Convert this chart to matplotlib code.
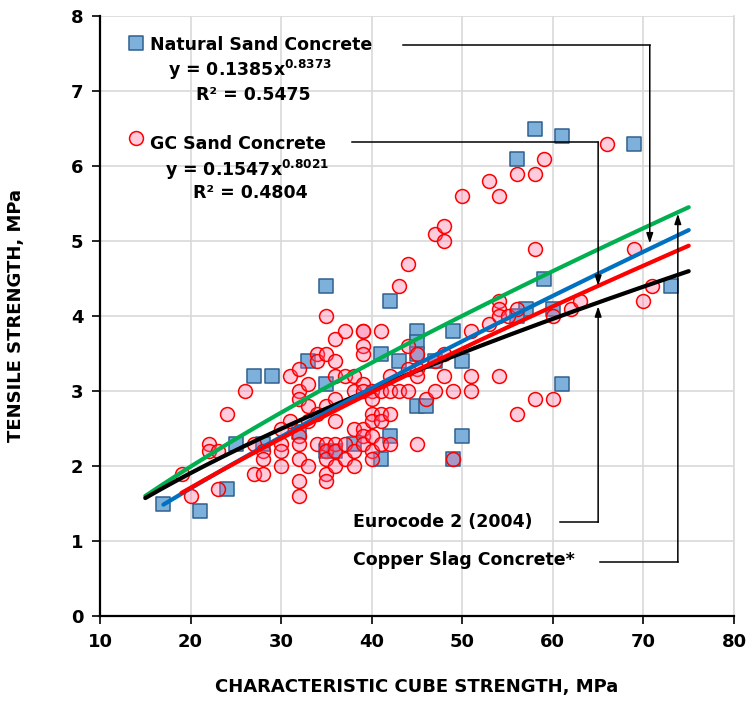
import numpy as np
import matplotlib
matplotlib.use("Agg")
import matplotlib.pyplot as plt

plt.rcParams['font.family'] = ['DejaVu Sans']
plt.rcParams['mathtext.fontset'] = 'custom'
plt.rcParams['mathtext.rm'] = 'DejaVu Sans:bold'
plt.rcParams['mathtext.bf'] = 'DejaVu Sans:bold'

# ---------------- data ----------------
nat_x = [17, 21, 24, 25, 28, 27, 29, 33, 32, 35, 35, 35, 36, 38, 41, 41, 42, 42, 43,
         45, 45, 45, 45, 46, 47, 49, 49, 50, 50, 56, 58, 61, 69, 59, 57, 56, 60, 73, 61]
nat_y = [1.5, 1.4, 1.7, 2.3, 2.3, 3.2, 3.2, 3.4, 2.45, 4.4, 3.1, 2.2, 2.2, 2.3, 3.5, 2.1, 4.2, 2.4, 3.4,
         3.8, 3.65, 3.5, 2.8, 2.8, 3.4, 3.8, 2.1, 3.4, 2.4, 6.1, 6.5, 6.4, 6.3, 4.5, 4.1, 4.0, 4.1, 4.4, 3.1]

gc_x = [19, 20, 22, 22, 23, 23, 24, 26, 27, 28, 28, 27, 28,
        30, 30, 30, 30, 31, 31, 32, 32, 32, 33, 33, 33, 32, 32, 32, 32, 32, 33,
        34, 34, 34, 34, 35, 35, 35, 35, 35, 35, 35, 35,
        36, 36, 36, 36, 36, 36, 36, 36,
        37, 37, 37, 37,
        38, 38, 38, 38, 38,
        39, 39, 39, 39, 39, 39, 39, 39, 39,
        40, 40, 40, 40, 40, 40, 40,
        41, 41, 41, 41, 41,
        42, 42, 42, 42,
        43, 43,
        44, 44, 44, 44,
        45, 45, 45, 45,
        46, 47, 47, 47, 48, 48, 48, 48,
        49, 49, 50, 51, 51, 51,
        53, 53, 54, 54, 54, 54, 54, 55, 56, 56, 56, 58, 58, 58, 59, 60, 60, 62, 63, 66, 69, 70, 71]
gc_y = [1.9, 1.6, 2.3, 2.2, 2.2, 1.7, 2.7, 3.0, 2.3, 2.2, 2.1, 1.9, 1.9,
        2.5, 2.3, 2.2, 2.0, 2.6, 3.2, 3.3, 3.0, 2.9, 3.1, 2.8, 2.6, 2.4, 2.3, 2.1, 1.8, 1.6, 2.0,
        3.5, 3.4, 2.7, 2.3, 4.0, 3.5, 2.8, 2.3, 2.2, 2.1, 1.9, 1.8,
        3.7, 3.4, 3.2, 2.9, 2.6, 2.3, 2.2, 2.0,
        3.8, 3.2, 2.3, 2.1,
        3.2, 3.0, 2.5, 2.2, 2.0,
        3.8, 3.8, 3.6, 3.5, 3.1, 3.0, 2.5, 2.4, 2.3,
        3.0, 2.9, 2.7, 2.6, 2.4, 2.2, 2.1,
        3.8, 3.0, 2.7, 2.6, 2.3,
        3.2, 3.0, 2.7, 2.3,
        4.4, 3.0,
        4.7, 3.6, 3.3, 3.0,
        3.5, 3.3, 3.2, 2.3,
        2.9, 5.1, 3.4, 3.0, 5.2, 5.0, 3.5, 3.2,
        3.0, 2.1, 5.6, 3.8, 3.2, 3.0,
        5.8, 3.9, 5.6, 4.2, 4.1, 4.0, 3.2, 4.0, 5.9, 4.1, 2.7, 5.9, 4.9, 2.9, 6.1, 4.0, 2.9, 4.1, 4.2, 6.3, 4.9, 4.2, 4.4]

# trend / code curves  y = a * x^b
nat_fit = (0.1385, 0.8373)
gc_fit = (0.1547, 0.8021)
cs_fit = (0.2035, 0.7615)       # copper slag concrete
ec2_coef = 0.30                 # EC2: fctm = 0.30 * fck^(2/3), fck = 0.8 * fcu
ec2_ratio = 0.8

nat_range = (17, 75)
gc_range = (19, 75)
cs_range = (15, 75)
ec2_range = (15, 75)

x_ticks = [10, 20, 30, 40, 50, 60, 70, 80]
y_ticks = [0, 1, 2, 3, 4, 5, 6, 7, 8]


def power(fit, x):
    return fit[0] * np.asarray(x, dtype=float) ** fit[1]


def ec2(x):
    return ec2_coef * (ec2_ratio * np.asarray(x, dtype=float)) ** (2.0 / 3.0)


# ---------------- figure ----------------
fig = plt.figure(figsize=(7.48, 7.04), dpi=100)
ax = fig.add_axes([100 / 748, 88 / 704, 634 / 748, 600 / 704])

ax.set_xlim(10, 80)
ax.set_ylim(0, 8)
ax.set_xticks(x_ticks)
ax.set_yticks(y_ticks)
ax.grid(True, color='#D9D9D9', linewidth=1.2, zorder=0)
ax.set_axisbelow(True)

ax.spines['top'].set_visible(False)
ax.spines['right'].set_color('#D9D9D9')
ax.spines['right'].set_linewidth(1.2)
ax.spines['left'].set_linewidth(1.6)
ax.spines['bottom'].set_linewidth(1.6)
ax.tick_params(axis='both', direction='out', length=6, width=1.2, labelsize=13, pad=6)
for lab in ax.get_xticklabels() + ax.get_yticklabels():
    lab.set_fontweight('bold')

sq_face = '#7DB1DC'
sq_edge = '#2F5F8F'
ci_face = (1.0, 0.40, 0.60, 0.33)

ax.scatter(nat_x, nat_y, marker='s', s=92, facecolor=sq_face, edgecolor=sq_edge,
           linewidth=1.1, zorder=3)
ax.scatter(gc_x, gc_y, marker='o', s=100, facecolor=ci_face, edgecolor='#FF0000',
           linewidth=1.1, zorder=4)

xx = np.linspace(*cs_range, 200)
ax.plot(xx, power(cs_fit, xx), color='#00B050', lw=3, zorder=5, solid_capstyle='round')
xx = np.linspace(*ec2_range, 200)
ax.plot(xx, ec2(xx), color='black', lw=3, zorder=5, solid_capstyle='round')
xx = np.linspace(*gc_range, 200)
ax.plot(xx, power(gc_fit, xx), color='#FF0000', lw=3, zorder=6, solid_capstyle='round')
xx = np.linspace(*nat_range, 200)
ax.plot(xx, power(nat_fit, xx), color='#0070C0', lw=3, zorder=5, solid_capstyle='round')

# ---------------- legend-like labels ----------------
fs = 12.5
ax.scatter([13.97], [7.64], marker='s', s=92, facecolor=sq_face, edgecolor=sq_edge,
           linewidth=1.1, zorder=7, clip_on=False)
ax.text(15.5, 7.61, 'Natural Sand Concrete', fontsize=fs, fontweight='bold',
        ha='left', va='center', zorder=8)
ax.text(26.6, 7.28, r'y = 0.1385x$^{0.8373}$', fontsize=fs, fontweight='bold',
        ha='center', va='center', zorder=8)
ax.text(26.9, 6.95, 'R² = 0.5475', fontsize=fs, fontweight='bold',
        ha='center', va='center', zorder=8)

ax.scatter([13.97], [6.37], marker='o', s=100, facecolor=ci_face, edgecolor='#FF0000',
           linewidth=1.1, zorder=7, clip_on=False)
ax.text(15.5, 6.29, 'GC Sand Concrete', fontsize=fs, fontweight='bold',
        ha='left', va='center', zorder=8)
ax.text(26.2, 5.95, r'y = 0.1547x$^{0.8021}$', fontsize=fs, fontweight='bold',
        ha='center', va='center', zorder=8)
ax.text(26.6, 5.64, 'R² = 0.4804', fontsize=fs, fontweight='bold',
        ha='center', va='center', zorder=8)

ax.text(37.9, 1.25, 'Eurocode 2 (2004)', fontsize=fs, fontweight='bold',
        ha='left', va='center', zorder=8)
ax.text(37.9, 0.75, 'Copper Slag Concrete*', fontsize=fs, fontweight='bold',
        ha='left', va='center', zorder=8)

# ---------------- leader lines with arrows ----------------
arrow_kw = dict(arrowstyle='-|>,head_length=0.6,head_width=0.2', color='black', lw=1.1,
                shrinkA=0, shrinkB=0)


def leader(x0, y0, xc, ytip):
    ax.plot([x0, xc], [y0, y0], color='black', lw=1.1, zorder=8)
    ax.annotate('', xy=(xc, ytip), xytext=(xc, y0), arrowprops=arrow_kw, zorder=8)


leader(43.4, 7.61, 70.7, float(power(nat_fit, 70.7)) + 0.07)
leader(37.8, 6.32, 65.0, float(power(gc_fit, 65.0)))
leader(60.8, 1.25, 65.0, float(ec2(65.0)) - 0.05)
leader(65.2, 0.72, 73.8, float(power(cs_fit, 73.8)) - 0.02)

ax.set_xlabel('CHARACTERISTIC CUBE STRENGTH, MPa', fontsize=13, fontweight='bold', labelpad=20)
ax.set_ylabel('TENSILE STRENGTH, MPa', fontsize=13, fontweight='bold', labelpad=33)

fig.savefig('out.png', dpi=100)
